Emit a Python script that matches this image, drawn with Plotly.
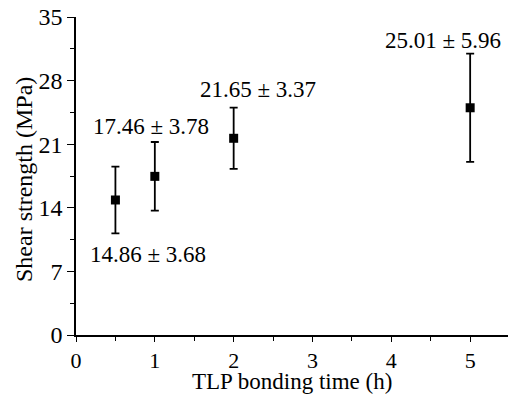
import plotly.graph_objects as go

time_h = [0.5, 1, 2, 5]
strength = [14.86, 17.46, 21.65, 25.01]
error = [3.68, 3.78, 3.37, 5.96]
labels = ["14.86 ± 3.68", "17.46 ± 3.78", "21.65 ± 3.37", "25.01 ± 5.96"]
x_title = "TLP bonding time (h)"
y_title = "Shear strength (MPa)"

# label placement (pixel offsets from bar end), style only
label_at_top = [False, True, True, True]
label_dx = [33, -4, 24, -27]
label_dy = [-21, 16, 18, 13]

FONT = "Liberation Serif"

fig = go.Figure()
fig.add_trace(go.Scatter(
    x=time_h, y=strength, mode="markers",
    marker=dict(symbol="square", size=9, color="black"),
    error_y=dict(type="data", array=error, visible=True, color="black",
                 thickness=1.8, width=4),
    showlegend=False,
))

for xv, yv, ev, lab, top, dx, dy in zip(time_h, strength, error, labels,
                                        label_at_top, label_dx, label_dy):
    fig.add_annotation(
        x=xv, y=(yv + ev) if top else (yv - ev), xref="x", yref="y",
        text=lab, showarrow=False, xanchor="center", yanchor="middle",
        xshift=dx, yshift=dy,
        font=dict(family=FONT, size=23, color="black"),
    )

# axis titles
fig.add_annotation(x=0.5, y=0, xref="paper", yref="paper", text=x_title,
                   showarrow=False, xanchor="center", yanchor="middle",
                   yshift=-46, borderpad=0,
                   font=dict(family=FONT, size=23, color="black"))
fig.add_annotation(x=0, y=0.5, xref="paper", yref="paper", text=y_title,
                   showarrow=False, xanchor="center", yanchor="middle",
                   textangle=-90, xshift=-52, yshift=-4,
                   font=dict(family=FONT, size=24, color="black"))

axis_common = dict(
    showline=True, linecolor="black", linewidth=1.6,
    tickwidth=1.4, tickcolor="black", ticks="outside",
    showgrid=False, zeroline=False, mirror=False,
)

fig.update_layout(
    width=511, height=396,
    margin=dict(l=76, r=3, t=17, b=61),
    paper_bgcolor="white", plot_bgcolor="white",
    font=dict(family=FONT),
    xaxis=dict(range=[0, 5.48], dtick=1, tick0=0, ticklen=5,
               tickfont=dict(family=FONT, size=22, color="black"),
               minor=dict(dtick=0.5, ticks="outside", ticklen=4,
                          tickcolor="black", tickwidth=1.2),
               **axis_common),
    yaxis=dict(range=[0, 35], dtick=7, tick0=0, ticklen=7,
               tickfont=dict(family=FONT, size=24, color="black"),
               minor=dict(dtick=3.5, ticks="outside", ticklen=4,
                          tickcolor="black", tickwidth=1.2),
               **axis_common),
)

fig.write_html("out.html")
